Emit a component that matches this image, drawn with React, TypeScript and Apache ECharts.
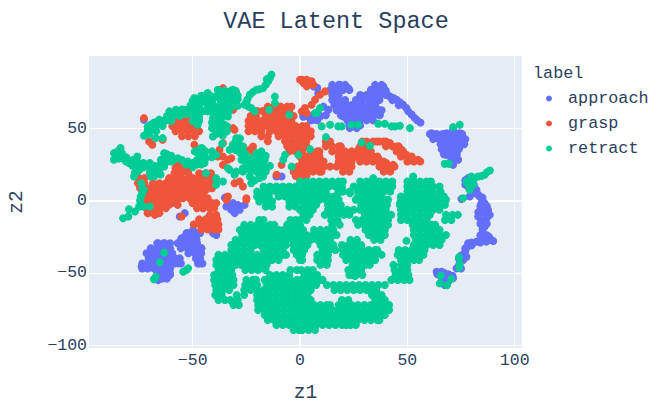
import React, { useEffect, useRef } from "react";
import * as echarts from "echarts";

const xTicks = [-50, 0, 50, 100];
const yTicks = [-100, -50, 0, 50];

const approach: number[][] = [
  [35.6,77.8],[38.8,79],[41.9,72],[45,69.7],[48,66.3],[50.4,61.7],[53.5,57],[56.1,54],[40,76],[43.5,71],[46.5,68],[49.5,64],[52,59.5],[54.5,55.5],[37,72],[40.5,73.5],
  [15.5,77.8],[18.6,80.1],[22.5,77.8],[17,69.7],[20.2,67.4],[23.2,65.1],[25.6,61.7],[29.5,72],[28.7,65.1],[32.5,69.7],[34.9,74.4],[36.4,62.8],[37.2,59.4],[31,58.2],[26.4,55.9],[23.2,50.1],[26.4,50.1],[20.2,58.2],[20.9,62.8],[17,72],[33.3,76.7],[38,74.4],
  [6.2,79],[8,78],[8.5,74],[10.9,65],[13.2,62.8],[9.3,58.2],[6.2,55.9],[3.9,58.2],[1.5,59.4],
  [61.2,46.6],[64.3,45.5],[68.2,46.6],[71.3,49],[74.4,46.6],[76.7,42],[74.4,37.4],[71.3,39.7],[68.2,40.9],[66.7,37.4],[68.2,31.6],[72.1,30.5],[73.6,28.2],[71.3,24.7],[69.8,35.1],[72.9,35.1],[64,43],[70,43],
  [78.3,15.5],[79.8,13.2],[78.3,9.7],[82.2,7.4],[83.7,2.8],[86,-1.9],[87.6,-6.5],[75.2,1.1],[79,2.8],[81,5],[85,0],[77,14],[77,11],[80,9],[81,11],[83,4],[85,2],[87,-4],[84,-4],[85,-8],[83,-8],
  [84.5,-1.8],[86.8,-7.6],[84.5,-13.4],[88.4,-9.9],[86,-18],[85.3,-22.6],[89.1,-27.2],[86.8,-28.4],[82.2,-28.4],[78.3,-29.5],[76.7,-36.5],[76,-41.1],[72.9,-46.9],[74.4,-43.4],[87,-12],[83,-11],[86,-14],[85,-26],[80,-29],[77,-33],[75,-38],[77.5,-39],[84,-16],[87,-16],[85,-20],[84,-24],[87,-24],[88,-25],[90,-28],[84,-29],[80,-31],[78,-32],[77,-35],[74,-40],[74,-45],[75,-47],
  [63.6,-49.2],[65.9,-49.2],[68.2,-53.8],[71.3,-53.8],[65.9,-56.1],[67.4,-58.4],[65.1,-51.5],[71,-52],[69,-51],[67,-50],[64,-51],[66.5,-54],[69,-56],[70,-52],
  [-73.8,-45.7],[-71.5,-44.5],[-69.2,-36.5],[-66.1,-29.5],[-63,-29.5],[-60.6,-34.2],[-58.3,-39.9],[-56.8,-43.4],[-61.4,-43.4],[-65.3,-42.2],[-68.4,-44.5],[-66.1,-49.2],[-62.2,-49.2],[-60.6,-51.5],[-66.1,-54.9],[-63.8,-53.8],[-70,-39.9],[-65.3,-36.5],
  [-56,-28.4],[-52.9,-22.6],[-49.8,-20.3],[-48.2,-27.2],[-52.1,-29.5],[-49,-34.2],[-45.9,-33],[-47.5,-37.6],[-46.7,-43.4],[-49.8,-30.7],[-55.2,-26.1],[-40.5,-22.6],[-39,-23.8],
  [-56,-11],[-53.7,-8.7],[-34.3,-4.1],[-31.2,-1.8],[-30.4,-8.7],[-28.1,-6.4],[-25.8,-3],[-32,-6.4],[-35,2],[-11,16.6],[-8.6,16.6],[-72.7,55.9],[1.5,58],[-33,-3],[-29,-3],[-30,-5]
];
const approachRows: number[][] = [
  [80, 15,18,21,35,38],
  [76.5, 14,17,20,23,33,36,39.5],
  [73, 15,18,28,31,34,37,40],
  [69.5, 15,18,21,26,29,32,35,37,43],
  [66, 16,19,22,24,26,29,32,35,46],
  [62.5, 17,20,23,26,29,32,35,38],
  [59, 19,22,25,28,31,34,37,3,6,9,12],
  [55.5, 22,25,28,31,34,5,8],
  [52, 23,25.5,28],
  [46, 60.5,63.5,66.5,69.5,72.5,75.5],
  [42.5, 62,65,68,71,74,77],
  [39, 65.5,68.5,71.5,74.5,76.5],
  [35.5, 66,69,72,74],
  [32, 67,70,73],
  [28.5, 70.5,73.5],
  [-29.5, -66.5,-63.5,-60.5,-57,-54,-51,-48],
  [-33, -69.5,-66.5,-63.5,-60.5,-55.5,-52.5,-49.5,-46],
  [-36.5, -71.5,-68.5,-65.5,-62.5,-59.5,-52,-49,-46],
  [-40, -70.5,-67.5,-64.5,-61.5,-58.5,-56,-48.5,-46.5],
  [-43.5, -73.5,-70.5,-67.5,-64.5,-61.5,-58.5,-55.5,-47.5,-45.5],
  [-47, -73.5,-71,-68,-66,-63,-60.5],
  [-50.5, -66.5,-63.5,-60.5],
  [-54, -67.5,-64.5,-62],
  [-26, -54.5,-51.5,-48.5],
  [-22.5, -52.5,-49.5,-46.5],
];

const grasp: number[][] = [
  [-75,12],[-72.7,2.8],[-68.8,5.1],[-64,7.4],[-61,9.7],[-57.8,12],[-56.3,16.6],[-54.7,20],[-51.6,12],[-48.4,12],[-45.3,14.3],[-43,16.6],[-43.8,7.4],[-45.3,2.8],[-49.2,5.1],[-53.1,5.1],[-57,5.1],[-61,2.8],[-64.8,1.6],[-68.8,-1.8],[-65.6,-4.2],[-61,-3],[-57,-3],[-46.9,-1.8],[-42.2,-3],[-45.3,-5.3],[-50,-1.8],
  [-70.7,-8.7],[-67.6,-9.9],[-66.1,-8.7],[-69.2,-7.6],[-55.2,-11],[-34.3,0.5],[-25,0.5],
  [-70.3,40.9],[-68.8,38.6],[-64,42],[-72.7,57],[-49.2,38.6],[-46.9,68.6],[-35.9,77.8],[-29.7,74.4],[-31.2,62.8],[-34.4,62.8],[-31.2,50.1],[-30.5,49],
  [-35.9,39.7],[-37.5,35.1],[-38.3,30.5],[-35.9,30.5],[-33.6,28.2],[-32,29.3],[-35.9,24.7],
  [-30.5,12],[-26.6,9.7],[-28.1,13.2],[-33.6,2.8],[-25,1.6],
  [-21.9,37.4],[-23.4,35.1],[-21.1,32.8],[-26.6,37.4],
  [-8.6,24.7],[-10.9,17.8],[0,83.6],[1.6,81.3],
  [0.8,83.6],[3.1,83.6],[5.4,82.5],[3.1,79],[6.2,80.1],[11.6,75.5],[9.3,73.2],[7,69.7],[5.4,66.3],[2.3,64],[0.8,61.7],[3.1,60.5],
  [27.1,35.1],[33.3,29.3],[36.4,29.3],[38.8,24.7],[41.9,22.4],[43.4,24.7],[40.3,25.9],
  [35.7,40.9],[38.8,40.9],[41.9,39.7],[45,37.4],[47.3,35.1],[49.6,31.6],[51.9,29.3],[55,28.2],[52.7,28.2]
];
const graspRows: number[][] = [
  [25.9, -57.5,-54.5],
  [22.4, -58,-55,-52.5],
  [18.9, -58.5,-55.5,-52,-47,-44,-41.5],
  [15.5, -75,-72.5,-61,-58,-55,-52,-50,-47.5,-44.5,-41],
  [12, -75.5,-72.5,-68.5,-65.5,-62.5,-59.5,-56.5,-53.5,-50.5,-47.5,-44.5,-41.5,-39.5],
  [8.5, -74.5,-71.5,-70,-67.5,-64.5,-61.5,-58.5,-55.5,-52.5,-49.5,-46.5,-43.5,-41],
  [5.1, -72,-69,-66,-63,-60,-57,-54,-51,-48,-45],
  [1.6, -72.5,-69.5,-66.5,-63.5,-60.5,-57.5,-56,-54.5,-51.5,-48.5,-45.5,-43],
  [-1.8, -72,-69,-66,-63,-60,-58,-50,-47,-44,-41,-39],
  [-5.3, -71.5,-68.5,-65.5,-62.5,-48,-45,-42,-40],
  [-8.7, -71,-68,-65.5],
  [-10, -42,-39],
  [-13, -47,-44,-41,-38.5],
  [-16.5, -49.5,-46.5,-43.5,-40.5,-38],
  [-20, -46,-43,-40,-38],
  [55, -60,-57,-54,-52],
  [51.5, -59.5,-56.5,-53.5,-50.5,-48],
  [48, -58,-55,-52,-49,-47],
  [44.5, -55,-52,-49],
  [65, -15,-12,-9,-6,-4],
  [62, -20,-17.5,-15.5,-12.5,-9.5,-6.5,-5],
  [58.5, -23,-20.5,-16,-13,-10,-7,-4,-3],
  [55, -24,-21,-18,-15,-12,-9,-6,-4],
  [51.5, -24,-21.5,-18.5,-15.5,-12.5,-9.5,-6.5,-3.5,-2,1,3],
  [48, -24,-21,-18,-14,-11,-8,-5,-2,0,3,5],
  [44.5, -18,-15,-10,-7,-4,-1,2,5],
  [41, -15,-7,-4,-1,2,3],
  [37.5, -6,-3,0,3],
  [34, -5,-2,1,5,8,9],
  [30.5, 0,3,6,9],
  [27, 1,4,7,10,11],
  [23.5, -1,2,5,8,11],
  [20, -3,0,3,6,9,10],
  [17, -2,1,3],
  [40.9, 12,14,29,31,34,37,40],
  [37.5, 12,15,18,19,28,31,32,40,43,46],
  [34, 15,18,21,24,27,29,32,33,45,48],
  [30.5, 18,21,24,26,28,31,34,36,47,50,52],
  [27, 18,21,24,28,31,34,37,39,50,53,56],
  [23.5, 11,14,17,20,23,24,37,40,43,44],
  [20, 20,23,39,42],
];

const retract: number[][] = [
  [-13.3,87.1],[-14.8,82.5],[-17.2,77.8],[-20.3,76.7],[-23.4,73.2],[-25.8,66.3],[-22.7,64],[-21.1,61.7],[-11.7,71.9],[-11.7,67.4],[-14.4,62.8],[-5,59.4],[-14,85],[-16,80],[-19,77],[-22,75],[-24.5,70],[-25,68],[-24,65],[-15.5,84],
  [-49.2,70.9],[-48.4,65.1],[-45.3,72.1],[-43,74.4],[-41.4,67.4],[-38.3,76.7],[-35.2,75.5],[-31.3,76.7],[-32,72.1],[-33.6,67.4],[-30.5,67.4],[-36.7,66.3],[-39.1,62.8],[-43,61.7],[-35.2,60.5],[-33.6,58.2],[-40.6,57],[-39.1,53.6],[-35.2,52.4],[-34.4,47.8],[-37.5,47.8],[-48.4,59.4],[-47.7,52.4],[-49.2,54.7],[-53.1,62.8],[-57.8,62.8],[-60.9,61.7],[-62.5,56],[-65.6,56],[-69.5,52.4],[-70.3,45.5],[-72.7,44.8],[-67.2,43.2],[-64,43.2],[-40.6,44.3],
  [-71,48],[-71,51],[-68,54],[-64,55],[-61,58],[-59,60],[-55,63],[-53,60],[-51,66],[-50,60],[-49,58],[-47,57],[-46,69],[-44,68],[-45,62],[-41,72],[-39,72],[-38.5,60],[-41,54],[-41,50],[-39,46],[-36,45],[-37,56],[-33,62],[-29,70],
  [-83.6,36.3],[-86.7,32.8],[-86.7,28.2],[-82.8,29.3],[-79.7,25.9],[-75.8,30.5],[-76.6,24.7],[-77.3,16.6],[-74.2,22.4],[-71.1,23.6],[-69.5,16.6],[-65.6,21.2],[-68,16.6],[-72.7,7.4],[-74.2,2.8],[-75,-4.2],[-79.7,-6],[-85,34],[-84.5,29],[-81,27],[-78,28],[-78,24],[-75.5,20],[-77,19],[-73,23],[-69,20],[-67,19],[-74,12],[-73.5,9],[-73.5,5],[-74.5,0],
  [-85,30],[-83,33],[-81,30],[-76,27],[-73,26],[-70,26],[-68,24],[-70,19],[-66,24],[-65,18],[-62,27],[-60,27],[-62,32],[-55,28],[-53,25],[-50,23],[-48,28],[-45,31],[-47,35],[-44,34],[-41,34],[-49,34],[-45.5,36],
  [-63.3,32.8],[-64.8,28.2],[-61.7,29.3],[-57,29.3],[-63.3,23.6],[-52.3,27],[-48.4,24.7],[-44.5,25.9],[-46,36.3],[-43.8,29.3],[-39.1,31.6],[-47.7,32.8],[-60,31],[-59,28],[-64,26],[-50,26],[-46,25],[-46.5,29],[-46,33],[-41,30],
  [-43.8,18.9],[-39.1,15.5],[-35.9,13.2],[-39.1,10.9],[-36.3,39.3],
  [-29.7,43.2],[-31.3,38.6],[-32.8,35.1],[-26.6,37.4],[-25.8,32.8],[-27.3,28.2],[-23.4,25.9],[-20.3,32.8],[-18,34],[-16.4,28.2],[-18.8,25.9],[-15.6,22.4],[-32.8,21.2],[-29.7,20],[-26.6,20],[-23.4,16.6],[-20.3,20],[-17.2,16.6],[-18.8,15.5],[-22.7,12],[-33.6,22.4],[-30.5,17.8],[-26.6,22.4],[-30,41],[-28,38],[-30,35],[-26,30],[-25,26],[-21,25],[-21,29],[-16,31],[-17,24],[-16,20],[-23,21],[-21,14],
  [-28,43],[-28,33],[-24,30],[-24,22],[-19,31],[-18,29],[-19,22],[-19,18],[-14,24],
  [-7,31.6],[-7.8,28.2],[-0.8,31.6],[-3.9,23.6],
  [7.8,60.5],[9.3,64],[7,60.5],[10.1,51.3],[14,52.4],[17.8,51.3],[19.4,51.3],[24,52.4],[27.1,52.4],[36.4,53.1],[39.5,53.1],[42.6,51.3],[44.2,51.3],[46.5,51.7],[51.2,50.1],[12.1,43.9],[4.7,35.6],[28.7,40.2],[32.6,37.9],[71.3,50.8],[74.4,52.4],[67.4,25.4],[69.3,25.4],[76,1.6],
  [88.4,20.8],[86,17.8],[82.9,16.6],[79.8,16.6],[77.5,13.2],[80.6,10.8],[79,7.4],[87,19.5],[84.5,17],[81,15],[78.5,11],
  [2.3,12],[6.2,12],[10.1,12],[14.7,12],[17,9.7],[19.4,8.5],[17.8,5.1],[15.5,0.4],[3.1,6.2],[7.8,6.2],[11.6,7.4],[4.7,1.6],[9.3,1.6],[12.4,2.8],[1.6,-1.9],[6.2,-3],[3.9,-4.2],[23.3,5.1],[16.3,-0.7],
  [34.1,15.5],[52.7,16.6],[46.5,-1.9],[30.2,-9.9],[49.6,-27.9],[24,-51.5],[27.1,-49.2],[25.6,-52.2],
  [-52.9,-48],[-54.4,-49.2],[-52.1,-46.9],[-80,-11],[-82.4,-12.2],[-76.9,-7.6],[-73.1,-4.1],[-70,-4.1],
  [-63.3,-36],[-65.3,-42.7],[-67.2,-52.6],[-68.1,-54.5],
  [74.1,-39.2],[74.4,-43.9],[74.1,-46.4],[65.6,-51.9],[65.1,-57.3],[68.5,-58.6],[70.5,-54.2]
];
const retractRows: number[][] = [
  [76, -38,-35,-32,-30],
  [72.5, -46,-43,-38,-35,-32,-29],
  [69, -50,-47.5,-44,-41,-37,-34,-31],
  [65.5, -50,-47,-43,-40,-37,-34,-31,-29],
  [62, -58,-55,-52,-50,-47,-42,-39,-36],
  [58.5, -62,-59,-56,-50,-47,-40,-37,-34],
  [55, -66,-63,-60,-50,-47,-40,-37],
  [51.5, -70,-67,-64,-40,-37,-34],
  [48, -70,-67,-37,-34],
  [13.2, 0,3,6,9,12,15,18,20,28,31,34,37,40,43,50,53,56,59,61],
  [9.7, 1.5,4.5,7.5,10.5,13.5,16.5,19.5,25,28,31,34,37,40,43,50,53,56,59,62,65,-17,-14,-11,-8,-5,-2],
  [6.2, 0,3,6,9,12,18,20,23,27,30,33,36,39,42,50,53,56,59,62,65.5,-20,-17,-14,-11,-8.5,-5.5,-2.5],
  [2.8, 1.5,4.5,7.5,10.5,13.5,16,27,30,33,36,38,47,50,53,56,59,62,65,67,-20,-17,-14.5,-10,-7,-4,-1],
  [0.5, 0,3,6,9,12,15,18,26,29,32,35,38,41,47,50,53,56,59,62,65,68],
  [-0.7, -19,-16,-13,-5,-2],
  [-3, 1.5,4.5,7.5,13,16,19,28.5,31.5,34.5,37.5,40.5,46.5,49.5,52.5,55.5,58.5,61.5,64.5,67.5],
  [-4.2, -16,-13,-5,-2],
  [-6.4, 0,3,6,13,16,19,22,25,28,31,34,37,40,47,50,53,56,59,62,65],
  [-9.9, 1.5,4.5,11.5,14.5,17.5,20.5,23,33.5,36.5,39.5,42.5,47,50,53,56,59,60.5,68,71,73.5],
  [-13.4, 0,3,14.5,17.5,26,29,32,35,38,41,47,50,53,56,59,67.5,70.5,-19,-17,-4.5,-2],
  [-16.8, 15,18.5,27,30,33,36,39,41,52.5,55.5,58.5,61.5,63,-26,-23,-20,-17,-14,-12,-6,-3,0],
  [-20.3, 6.5,9.5,12.5,15.5,30.5,33.5,36.5,39.5,53,56,59,62,65,-28,-25,-22,-19,-16,-13,-10,-7.5,-4.5,-1.5,1.5],
  [-23.8, 3,6,9,12,15,17,32,35,38,39.5,53,56,59,62,65,68,-27,-24,-21,-18,-15,-12,-9,-6,-3,0,2],
  [-27.2, 2,5,8,11,14,23.5,26.5,34.5,37.5,54,57,60,63,66,-30,-27.5,-24.5,-21.5,-18.5,-15.5,-12.5,-9.5,-6.5,-3.5,-0.5],
  [-30.7, 0.5,3.5,9.5,12.5,15.5,19.5,22.5,25.5,28.5,53,56,59,62,65,-32,-29,-26,-23,-21,-18.5,-15.5,-12.5,-9.5,-6.5,-3,0],
  [-34.2, 2,10.5,13.5,16.5,20,23,26,29,32,35,36,46,49,52,55,58,-32,-29,-26,-23,-17,-14,-11,-8,-3,0],
  [-37.6, 1,8,11,13,20,23,26,29,32,35,38,45.5,48.5,51.5,54.5,57.5,-38,-35,-32,-29,-26,-23,-20,-17,-14,-11,-8,-6.5,-1.5],
  [-41.1, 1,8,11,13,21.5,24.5,27.5,30.5,33.5,35,47,50,53,55.5,-39,-36,-33,-30,-28,-25,-22,-19,-16,-13,-10,0],
  [-44.5, 9.5,12.5,24.5,27.5,30.5,32.5,43.5,47,50,-39,-36,-33,-30,-27.5,-24.5,-21.5,-18.5,-15.5],
  [-48, 0.5,3.5,6,22.5,25.5,28.5,44,47,50,-38,-35,-32,-25.5,-22.5,-19.5,-16,-4.5,-1.5],
  [-51.5, 2,5,8,23,26,29,44.5,47.5,50.5,-40,-37,-34,-31.5,-14,-11,-8,-5],
  [-54.9, 0.5,3.5,6.5,9.5,10.5,42.5,45.5,48.5,51,-40,-37,-34,-31,-25,-22,-20.5,-16.5,-13.5,-10.5,-7.5,-4.5,-1.5],
  [-58.4, 2,5,7.5,12.5,15.5,18.5,21.5,24.5,27.5,30.5,33.5,36.5,39.5,-39.5,-36.5,-33.5,-31,-25.5,-22.5,-20,-15.5,-12.5,-9.5,-6.5,-3,0],
  [-61.9, 1,4,5,16,19,22,25,28,31,34,35.5,-39,-36,-33,-26,-23,-20,-17,-14,-11,-8,-5,-2],
  [-65.3, 0.5,3.5,33.5,36.5,38,-39.5,-36.5,-29.5,-26,-20,-17,-14,-11,-8,-5,-2],
  [-68.8, 2,5,19.5,22.5,35,38,39.5,-38,-35,-32.5,-29,-20,-17,-14,-11,-8,-5,-2,0],
  [-72.3, 1.5,4.5,6.5,9.5,12.5,14,18,21,24,27,30,33,36,39,41.5,-31,-28.5,-19.5,-16.5,-13.5,-10.5,-7.5,-4.5,-1.5],
  [-75.7, 0,3,6,9,12,15,18,21,24,27,30,33,36,39,41.5,-19.5,-16.5,-13.5,-10.5,-7.5,-4.5,-1.5],
  [-79.2, 1.5,4.5,7.5,10.5,13.5,16.5,19.5,22.5,25.5,28.5,31.5,34.5,37.5,39.5,-16.5,-13.5,-10.5,-7.5,-4.5,-1.5],
  [-82.7, 0,3,6,9,12,15,18,21,24,27,30,33,36,37,-15,-12,-9,-6,-3],
  [-86.1, 1.5,4.5,7.5,10.5,13.5,16.5,19.5,21.5,23.5,26,-11,-8,-5,-2],
  [-89.6, 1,4,7,-3,-0.5],
];

const fromRows = (rows: number[][]) =>
  rows.flatMap(([y, ...xs]) => xs.map((x) => [x, y]));

const FONT = "'Liberation Mono', monospace";
const INK = "#2a3f5f";

export default function App() {
  const ref = useRef<HTMLDivElement>(null);
  useEffect(() => {
    const chart = echarts.init(ref.current!, undefined, { renderer: "svg" });
    const point = (name: string, data: number[][], color: string) => ({
      name,
      type: "scatter",
      data,
      z: 3,
      symbolSize: 8,
      itemStyle: { color, opacity: 1 },
    });
    chart.setOption({
      animation: false,
      backgroundColor: "#fff",
      title: {
        text: "VAE Latent Space",
        left: 336,
        top: 9,
        padding: 0,
        textAlign: "center",
        textStyle: { fontFamily: FONT, fontSize: 23.5, fontWeight: "normal", color: INK },
      },
      grid: {
        left: 89, right: 137, top: 56, bottom: 55,
        outerBoundsMode: "none",
        show: true, backgroundColor: "#e5ecf6", borderWidth: 0,
      },
      xAxis: {
        type: "value", min: -98.3, max: 103.4,
        name: "z1", nameLocation: "middle", nameGap: 35,
        nameTextStyle: { fontFamily: FONT, fontSize: 19.5, color: INK },
        axisLine: { show: false },
        axisTick: { show: false, customValues: xTicks },
        axisLabel: { customValues: xTicks, fontFamily: FONT, fontSize: 16.5, color: INK, margin: 4,
          formatter: (v: number) => String(v).replace("-", "\u2212") },
        splitLine: { show: true, lineStyle: { color: "#fff", width: 1 } },
      },
      yAxis: {
        type: "value", min: -102, max: 100,
        name: "z2", nameLocation: "middle", nameGap: 62,
        nameTextStyle: { fontFamily: FONT, fontSize: 19.5, color: INK },
        axisLine: { show: false },
        axisTick: { show: false, customValues: yTicks },
        axisLabel: { customValues: yTicks, fontFamily: FONT, fontSize: 16.5, color: INK, margin: 2,
          formatter: (v: number) => String(v).replace("-", "\u2212") },
        splitLine: { show: true, lineStyle: { color: "#fff", width: 1 } },
      },
      legend: {
        orient: "vertical",
        left: 541, top: 85,
        icon: "circle", itemWidth: 6, itemHeight: 6, itemGap: 8,
        data: ["approach", "grasp", "retract"],
        textStyle: { fontFamily: FONT, fontSize: 16.8, color: INK, padding: [0, 0, 0, 11] },
      },
      graphic: [{
        type: "text", left: 533, top: 65,
        style: { text: "label", font: `16.8px ${FONT}`, fill: INK },
      }],
      series: [
        {
          name: "axes", type: "scatter", data: [], z: 1, silent: true,
          markLine: {
            silent: true, symbol: "none", label: { show: false }, z: 1,
            lineStyle: { color: "#fff", width: 2, type: "solid" },
            data: [{ xAxis: 0 }, { yAxis: 0 }],
          },
        },
        point("approach", [...approach, ...fromRows(approachRows)], "#636efa"),
        point("grasp", [...grasp, ...fromRows(graspRows)], "#ef553b"),
        point("retract", [...retract, ...fromRows(retractRows)], "#00cc96"),
      ],
    });
    return () => chart.dispose();
  }, []);
  return <div ref={ref} style={{ position: "absolute", left: 0, top: 0, width: 659, height: 403 }} />;
}
